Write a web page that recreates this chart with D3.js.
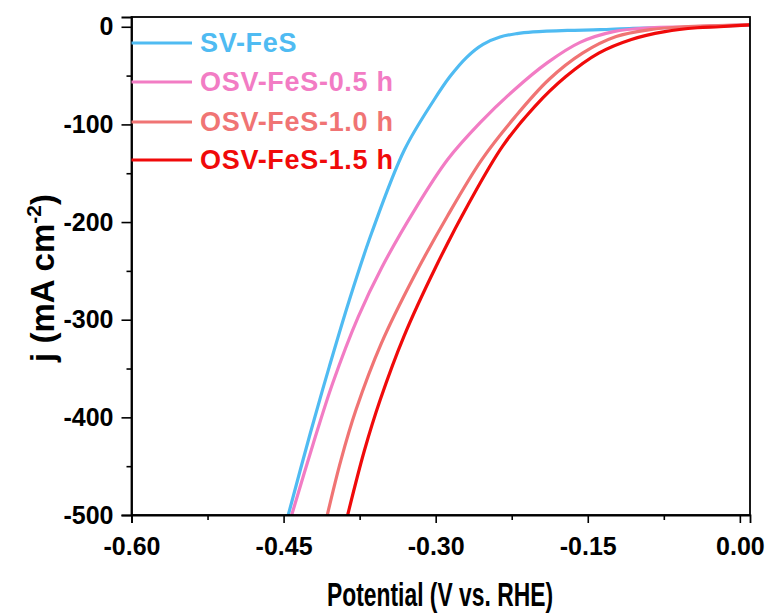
<!DOCTYPE html>
<html>
<head>
<meta charset="utf-8">
<script src="https://cdn.jsdelivr.net/npm/d3@7"></script>
<style>
  html, body { margin: 0; padding: 0; background: #fff; }
  svg { display: block; font-family: "Liberation Sans", Arial, sans-serif; font-weight: bold; }
</style>
</head>
<body>
<svg id="chart" width="769" height="615"></svg>
<script>
// ---- data ----
const seriesNames = ["SV-FeS", "OSV-FeS-0.5 h", "OSV-FeS-1.0 h", "OSV-FeS-1.5 h"];
const seriesColors = ["#4FBBF2", "#F27CC4", "#F07474", "#F00A0A"];

const svFeS_V = [-0.4454, -0.4236, -0.4049, -0.3852, -0.3631, -0.3308, -0.3017, -0.2859, -0.2692, -0.2533, -0.2366, -0.2198, -0.2041, -0.17, -0.138, -0.1054, -0.05, 0.01];
const svFeS_J = [-500, -416, -348, -280, -211, -126, -75, -51, -31, -18, -10.5, -7, -5.3, -3.7, -3, -1.5, -0.5, 2];

const osv05_V = [-0.442, -0.4208, -0.4016, -0.3764, -0.3529, -0.321, -0.2882, -0.2559, -0.2229, -0.1901, -0.1576, -0.1246, -0.0887, -0.05, 0.01];
const osv05_J = [-500, -427, -365, -297, -246, -188, -136, -98, -65, -37, -16, -5, -1, 0, 2];

const osv10_V = [-0.4069, -0.3935, -0.3785, -0.3535, -0.3215, -0.2885, -0.2545, -0.2215, -0.1883, -0.1552, -0.122, -0.0887, -0.056, 0.01];
const osv10_J = [-500, -444, -392, -324, -256, -194, -136, -92, -54, -27, -10, -3, 0, 2];

const osv15_V = [-0.3868, -0.3703, -0.3547, -0.3313, -0.2999, -0.2674, -0.2338, -0.2026, -0.1716, -0.1392, -0.107, -0.074, -0.042, -0.02, 0.01];
const osv15_J = [-500, -434, -382, -317, -246, -181, -122, -82, -51, -27, -13, -5, -1, 0, 2];

const xTicks = [-0.60, -0.45, -0.30, -0.15, 0.00];
const xMinorTicks = [-0.525, -0.375, -0.225, -0.075];
const yTicks = [0, -100, -200, -300, -400, -500];
const yMinorTicks = [-50, -150, -250, -350, -450];
const xDomain = [-0.6, 0.01];
const yDomain = [-500, 10];
const xTitle = "Potential (V vs. RHE)";

// ---- layout ----
const svg = d3.select("#chart");
const L = 131.5, R = 750, T = 17, B = 515;
const x = d3.scaleLinear().domain(xDomain).range([L, R]);
const y = d3.scaleLinear().domain(yDomain).range([B, T]);

const seriesData = [
  d3.zip(svFeS_V, svFeS_J),
  d3.zip(osv05_V, osv05_J),
  d3.zip(osv10_V, osv10_J),
  d3.zip(osv15_V, osv15_J)
];

svg.append("defs").append("clipPath").attr("id", "clip")
  .append("rect").attr("x", L).attr("y", T).attr("width", R - L).attr("height", B - T);

// curves
const line = d3.line().x(d => x(d[0])).y(d => y(d[1])).curve(d3.curveCatmullRom.alpha(0.5));
const g = svg.append("g").attr("clip-path", "url(#clip)");
seriesData.forEach((s, i) => {
  g.append("path").datum(s)
    .attr("d", line)
    .attr("fill", "none")
    .attr("stroke", seriesColors[i])
    .attr("stroke-width", 3.2)
    .attr("stroke-linejoin", "round");
});

// axes
const fontSize = 25;
const fam = "'Liberation Sans', Arial, sans-serif";
const xAxis = d3.axisBottom(x).tickValues(xTicks).tickSize(8).tickPadding(14);
const xAxisG = svg.append("g").attr("transform", `translate(0,${B})`).call(xAxis);
xAxisG.selectAll(".tick text").attr("font-size", fontSize).attr("font-weight", "bold")
  .attr("font-family", fam).attr("fill", "#000")
  .text(d => d3.format(".2f")(d).replace("\u2212", "-"));
const xMinor = d3.axisBottom(x).tickValues(xMinorTicks).tickSize(5).tickFormat("");
svg.append("g").attr("transform", `translate(0,${B})`).call(xMinor).select(".domain").remove();

const yAxis = d3.axisLeft(y).tickValues(yTicks).tickSize(10).tickPadding(8);
const yAxisG = svg.append("g").attr("transform", `translate(${L},0)`).call(yAxis);
yAxisG.selectAll(".tick text").attr("font-size", fontSize).attr("font-weight", "bold")
  .attr("font-family", fam).attr("fill", "#000")
  .text(d => String(d).replace("\u2212", "-"));
const yMinor = d3.axisLeft(y).tickValues(yMinorTicks).tickSize(5).tickFormat("");
svg.append("g").attr("transform", `translate(${L},0)`).call(yMinor).select(".domain").remove();

svg.selectAll(".tick line").attr("stroke", "#000").attr("stroke-width", 1.6);
svg.selectAll(".domain").attr("stroke", "#000").attr("stroke-width", 1.8);

// frame
svg.append("rect").attr("x", L).attr("y", T).attr("width", R - L).attr("height", B - T)
  .attr("fill", "none").attr("stroke", "#000").attr("stroke-width", 1.8);

// axis titles
svg.append("text").attr("x", 440).attr("y", 606).attr("text-anchor", "middle")
  .attr("font-size", 33).attr("font-weight", "bold").attr("fill", "#000")
  .attr("textLength", 226).attr("lengthAdjust", "spacingAndGlyphs").text(xTitle);

const yt = svg.append("text").attr("transform", "translate(54,278) rotate(-90)")
  .attr("text-anchor", "middle").attr("font-size", 33).attr("font-weight", "bold").attr("fill", "#000");
yt.append("tspan").text("j (mA cm");
yt.append("tspan").attr("font-size", 21).attr("dy", -13).text("-2");
yt.append("tspan").attr("dy", 13).text(")");

// legend
const legRows = [43, 82, 122, 160];
seriesNames.forEach((name, i) => {
  svg.append("line").attr("x1", L).attr("x2", 192).attr("y1", legRows[i]).attr("y2", legRows[i])
    .attr("stroke", seriesColors[i]).attr("stroke-width", 3.2);
  svg.append("text").attr("x", 200).attr("y", legRows[i]).attr("dy", "0.35em")
    .attr("font-size", 27).attr("font-weight", "bold").attr("letter-spacing", 0.7)
    .attr("fill", seriesColors[i]).text(name);
});
</script>
</body>
</html>
